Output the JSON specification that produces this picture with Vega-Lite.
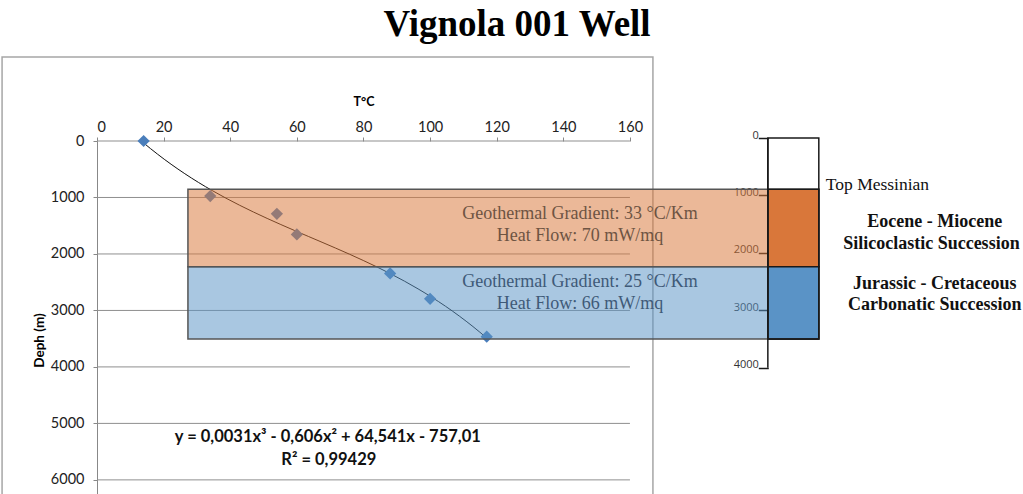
{
  "$schema": "https://vega.github.io/schema/vega-lite/v6.json",
  "width": 926,
  "height": 353,
  "autosize": "none",
  "padding": {"left": 97, "top": 141, "right": 0, "bottom": 0},
  "background": "white",
  "title": {"text": "Vignola 001 Well", "font": "Liberation Serif", "fontSize": 37, "fontWeight": "bold", "color": "#000000", "anchor": "middle", "dx": -43, "offset": 12},
  "config": {"view": {"stroke": null}, "font": "Lato"},
  "datasets": {
    "wells": [
      {"T": 14, "depth": 0},
      {"T": 34, "depth": 975},
      {"T": 54, "depth": 1290},
      {"T": 60, "depth": 1655},
      {"T": 88, "depth": 2345},
      {"T": 100, "depth": 2795},
      {"T": 117, "depth": 3465}
    ],
    "grid": [
      {"depth": 0}, {"depth": 1000}, {"depth": 2000}, {"depth": 3000}, {"depth": 4000}, {"depth": 5000}, {"depth": 6000}
    ],
    "units": [
      {"unit": "Eocene - Miocene", "top": 855, "base": 2225},
      {"unit": "Jurassic - Cretaceous", "top": 2225, "base": 3505}
    ],
    "bandText": [
      {"unit": "Eocene - Miocene", "label": "Geothermal Gradient: 33 °C/Km", "T": 145, "depth": 1292},
      {"unit": "Eocene - Miocene", "label": "Heat Flow: 70 mW/mq", "T": 145, "depth": 1682},
      {"unit": "Jurassic - Cretaceous", "label": "Geothermal Gradient: 25 °C/Km", "T": 145, "depth": 2496},
      {"unit": "Jurassic - Cretaceous", "label": "Heat Flow: 66 mW/mq", "T": 145, "depth": 2886}
    ],
    "unitText": [
      {"label": "Eocene - Miocene", "T": 251.5, "depth": 1434},
      {"label": "Silicoclastic Succession", "T": 250.5, "depth": 1824},
      {"label": "Jurassic - Cretaceous", "T": 251.5, "depth": 2532},
      {"label": "Carbonatic Succession", "T": 251.5, "depth": 2904}
    ],
    "topText": [
      {"label": "Top Messinian", "T": 218.8, "depth": 779}
    ],
    "eqText": [
      {"label": "y = 0,0031x³ - 0,606x² + 64,541x - 757,01", "T": 69.3, "depth": 5241},
      {"label": "R² = 0,99429", "T": 69.6, "depth": 5648}
    ],
    "column": [
      {"part": "column"}
    ]
  },
  "layer": [
    {
      "layer": [
        {
          "data": {"name": "grid"},
          "transform": [{"filter": "datum.depth == 0"}],
          "mark": {"type": "rect", "fill": "transparent", "stroke": "#a6a6a6", "strokeWidth": 1.5},
          "encoding": {
            "x": {"datum": -28.5, "type": "quantitative", "scale": {"domain": [0, 278], "nice": false, "zero": false},
              "axis": {"orient": "top", "values": [0, 20, 40, 60, 80, 100, 120, 140, 160], "domain": false, "grid": false, "tickSize": 4, "tickColor": "#888888", "labelFont": "Lato", "labelFontSize": 14.5, "labelColor": "#222222", "labelPadding": 3, "title": "T°C", "titleFont": "Lato", "titleFontSize": 12.5, "titleFontWeight": "bold", "titleColor": "#000000", "titleX": 266.5, "titleY": -36, "titleAlign": "center", "titleBaseline": "alphabetic"}},
            "x2": {"datum": 166.9},
            "y": {"datum": -1487, "type": "quantitative", "scale": {"domain": [0, 6250], "reverse": true, "nice": false, "zero": false},
              "axis": {"orient": "left", "values": [0, 1000, 2000, 3000, 4000, 5000, 6000], "format": "d", "grid": false, "domainColor": "#888888", "domainWidth": 1, "tickSize": 4, "tickColor": "#888888", "labelFont": "Lato", "labelFontSize": 14.5, "labelColor": "#222222", "labelPadding": 9, "title": "Deph (m)", "titleFont": "Lato", "titleFontSize": 13.5, "titleFontWeight": "bold", "titleColor": "#000000", "titleAngle": -90, "titleX": -58, "titleY": 199, "titleAlign": "center", "titleBaseline": "middle"}},
            "y2": {"datum": 6500}
          }
        },
        {
          "data": {"name": "grid"},
          "mark": {"type": "rule", "stroke": "#8f8f8f", "strokeWidth": 1},
          "encoding": {
            "x": {"datum": 0, "type": "quantitative"},
            "x2": {"datum": 160},
            "y": {"field": "depth", "type": "quantitative"}
          }
        },
        {
          "data": {"name": "wells"},
          "transform": [{"regression": "depth", "on": "T", "method": "poly", "order": 3}],
          "mark": {"type": "line", "stroke": "#111111", "strokeWidth": 1},
          "encoding": {
            "x": {"field": "T", "type": "quantitative"},
            "y": {"field": "depth", "type": "quantitative"}
          }
        },
        {
          "data": {"name": "wells"},
          "mark": {"type": "point", "shape": "diamond", "filled": true, "fill": "#4a7ebb", "opacity": 1, "size": 150},
          "encoding": {
            "x": {"field": "T", "type": "quantitative"},
            "y": {"field": "depth", "type": "quantitative"}
          }
        },
        {
          "data": {"name": "units"},
          "mark": {"type": "rect", "fillOpacity": 0.52, "stroke": "#555555", "strokeWidth": 1.5},
          "encoding": {
            "x": {"datum": 27.3, "type": "quantitative"},
            "x2": {"datum": 216.7},
            "y": {"field": "top", "type": "quantitative"},
            "y2": {"field": "base"},
            "fill": {"field": "unit", "type": "nominal", "scale": {"domain": ["Eocene - Miocene", "Jurassic - Cretaceous"], "range": ["#d9773a", "#5a93c6"]}, "legend": null}
          }
        },
        {
          "data": {"name": "units"},
          "mark": {"type": "rect", "fillOpacity": 1, "stroke": "#1a1a1a", "strokeWidth": 1.5},
          "encoding": {
            "x": {"datum": 201.4, "type": "quantitative"},
            "x2": {"datum": 216.7},
            "y": {"field": "top", "type": "quantitative"},
            "y2": {"field": "base"},
            "fill": {"field": "unit", "type": "nominal", "legend": null}
          }
        },
        {
          "data": {"name": "bandText"},
          "transform": [{"filter": "datum.unit == 'Eocene - Miocene'"}],
          "mark": {"type": "text", "font": "Liberation Serif", "fontSize": 18, "color": "#6e5443", "align": "center", "baseline": "middle"},
          "encoding": {
            "x": {"field": "T", "type": "quantitative"},
            "y": {"field": "depth", "type": "quantitative"},
            "text": {"field": "label"}
          }
        },
        {
          "data": {"name": "bandText"},
          "transform": [{"filter": "datum.unit == 'Jurassic - Cretaceous'"}],
          "mark": {"type": "text", "font": "Liberation Serif", "fontSize": 18, "color": "#3f5a78", "align": "center", "baseline": "middle"},
          "encoding": {
            "x": {"field": "T", "type": "quantitative"},
            "y": {"field": "depth", "type": "quantitative"},
            "text": {"field": "label"}
          }
        },
        {
          "data": {"name": "topText"},
          "mark": {"type": "text", "font": "Liberation Serif", "fontSize": 17.5, "color": "#111111", "align": "left", "baseline": "middle"},
          "encoding": {
            "x": {"field": "T", "type": "quantitative"},
            "y": {"field": "depth", "type": "quantitative"},
            "text": {"field": "label"}
          }
        },
        {
          "data": {"name": "unitText"},
          "mark": {"type": "text", "font": "Liberation Serif", "fontSize": 18, "fontWeight": "bold", "color": "#111111", "align": "center", "baseline": "middle"},
          "encoding": {
            "x": {"field": "T", "type": "quantitative"},
            "y": {"field": "depth", "type": "quantitative"},
            "text": {"field": "label"}
          }
        },
        {
          "data": {"name": "eqText"},
          "mark": {"type": "text", "font": "Lato", "fontSize": 16.5, "fontWeight": "bold", "color": "#111111", "align": "center", "baseline": "middle"},
          "encoding": {
            "x": {"field": "T", "type": "quantitative"},
            "y": {"field": "depth", "type": "quantitative"},
            "text": {"field": "label"}
          }
        }
      ]
    },
    {
      "data": {"name": "column"},
      "layer": [
        {
          "mark": {"type": "rule", "stroke": "#1a1a1a", "strokeWidth": 1.5},
          "encoding": {
            "x": {"datum": 201.4, "type": "quantitative"},
            "y": {"datum": 0, "type": "quantitative", "scale": {"domain": [0, 6199], "range": [-3, 353], "nice": false, "zero": false},
              "axis": {"orient": "left", "offset": -671.3, "values": [0, 1000, 2000, 3000, 4000], "format": "d", "domain": false, "grid": false, "tickSize": 10, "tickWidth": 1.5, "tickColor": "#1a1a1a", "labelFont": "Open Sans", "labelFontSize": 11, "labelColor": "#333333", "labelPadding": 0, "labelBaseline": "alphabetic", "title": null}},
            "y2": {"datum": 4000}
          }
        },
        {
          "mark": {"type": "rect", "fill": "transparent", "stroke": "#1a1a1a", "strokeWidth": 1.5},
          "encoding": {
            "x": {"datum": 201.4, "type": "quantitative"},
            "x2": {"datum": 216.7},
            "y": {"datum": 0, "type": "quantitative"},
            "y2": {"datum": 3500}
          }
        }
      ]
    }
  ],
  "resolve": {"scale": {"y": "independent"}}
}
